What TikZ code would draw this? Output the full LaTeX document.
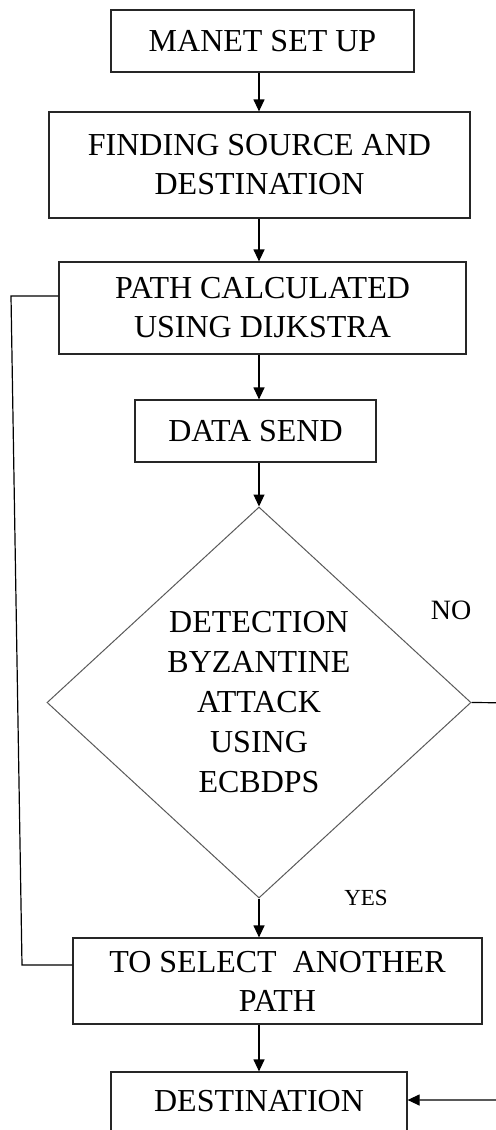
\documentclass[tikz,border=0pt]{standalone}
\usepackage{fontspec}
\setmainfont{Liberation Serif}
\usepackage{tikz}
\usetikzlibrary{shapes.geometric,arrows.meta}
\tikzstyle{block} = [draw=black!85,line width=0.6pt,align=center,inner sep=0pt,font=\fontsize{16}{19.5}\selectfont]
\tikzstyle{decision} = [diamond,draw=black!65,line width=0.5pt,align=center,inner sep=0pt,font=\fontsize{16}{20}\selectfont]
\tikzstyle{edge} = [draw,line width=0.6pt]
\tikzstyle{tag} = [inner sep=0pt]

\begin{document}
\begin{tikzpicture}[x=0.5pt,y=-0.5pt,post/.style={edge,-{Triangle[width=5.5pt,length=6pt]}}]
    \useasboundingbox (0,0) rectangle (495,1130);

    \coordinate (spine) at (259,0);

    \node[block,minimum width=151.5pt,minimum height=31pt] (setup) at (262.5,41) {MANET SET UP};
    \node[block,minimum width=210.5pt,minimum height=53pt] (find) at (259.5,165) {FINDING SOURCE AND\\DESTINATION};
    \node[block,minimum width=203.5pt,minimum height=46pt] (path) at (262.5,308) {PATH CALCULATED\\USING DIJKSTRA};
    \node[block,minimum width=120.5pt,minimum height=31pt] (send) at (255.5,431) {DATA SEND};

    \node[decision,minimum width=212pt,minimum height=195.5pt] (detect) at (259,702.5) {DETECTION\\BYZANTINE\\ATTACK\\USING\\ECBDPS};

    \node[block,minimum width=204.5pt,minimum height=43pt] (select) at (277.5,981) {TO SELECT\ \ ANOTHER\\PATH};
    \node[block,minimum width=148pt,minimum height=34pt,text depth=5pt] (dest) at (259,1106) {DESTINATION};

    \node[tag,font=\fontsize{14}{16}\selectfont] (no) at (451,610) {NO};
    \node[tag,font=\fontsize{11.5}{14}\selectfont] (yes) at (366,898) {YES};

    \draw[post] (spine |- setup.south) -- (spine |- find.north);
    \draw[post] (spine |- find.south) -- (spine |- path.north);
    \draw[post] (spine |- path.south) -- (spine |- send.north);
    \draw[post] (spine |- send.south) -- (detect.north);
    \draw[post] (detect.south) -- (spine |- select.north);
    \draw[post] (spine |- select.south) -- (spine |- dest.north);

    \draw[edge] ([yshift=6pt]path.west) -- (11,296) -- (22,965) -- ([yshift=8pt]select.west);
    \draw[post] (detect.east) -- (530,703) |- ([yshift=3pt]dest.east);

\end{tikzpicture}
\end{document}
